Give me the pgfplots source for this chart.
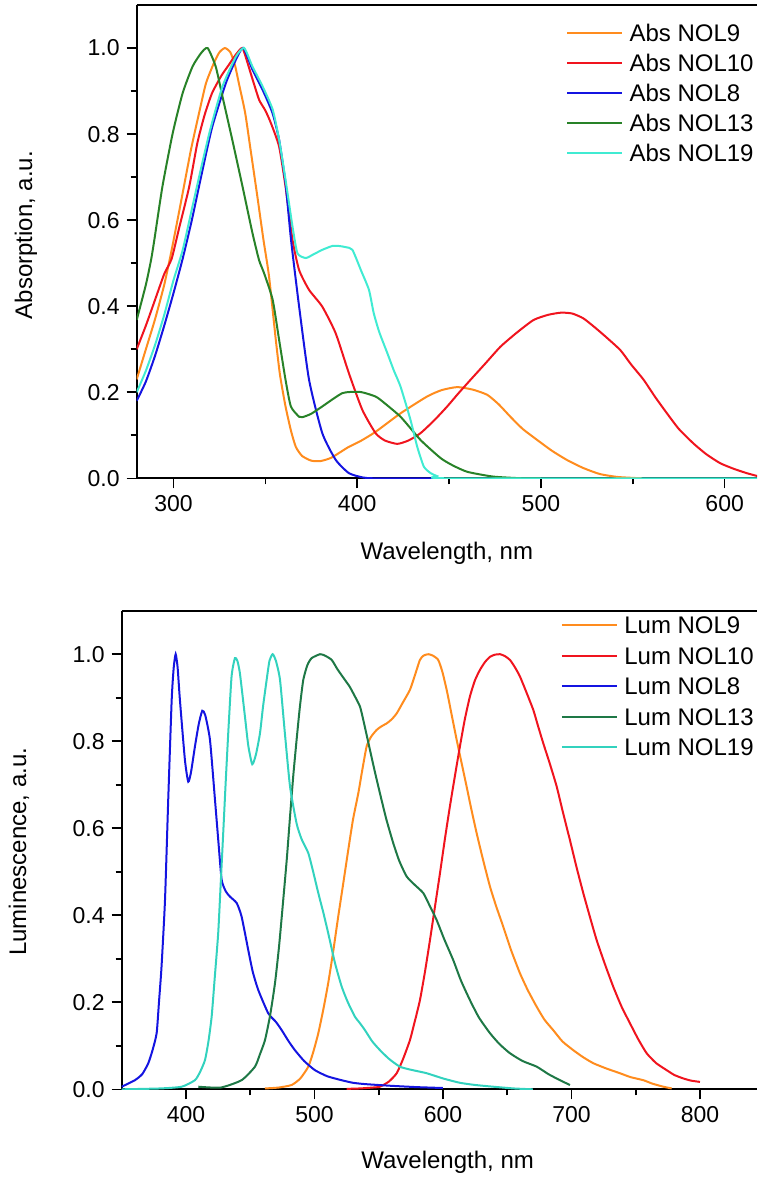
\documentclass[border=0pt]{standalone}
\usepackage{fontspec}
\setmainfont{Liberation Sans}
\usepackage{pgfplots}
\pgfplotsset{compat=1.18}

\definecolor{absorange}{RGB}{255,140,30}
\definecolor{absred}{RGB}{240,20,30}
\definecolor{absblue}{RGB}{20,20,225}
\definecolor{absgreen}{RGB}{40,130,40}
\definecolor{abscyan}{RGB}{64,235,210}
\definecolor{lumgreen}{RGB}{30,120,70}
\definecolor{lumcyan}{RGB}{50,210,190}

\pgfplotsset{
  spectrum/.style={
    scale only axis,
    axis x line*=box, axis y line*=left,
    xtick pos=left, ytick pos=left,
    tick align=outside,
    major tick length=5pt, minor tick length=3pt,
    minor x tick num=1, minor y tick num=1,
    ymin=0, ymax=1.1,
    ytick={0,0.2,0.4,0.6,0.8,1.0},
    yticklabel style={/pgf/number format/.cd, fixed, fixed zerofill, precision=1},
    /pgf/number format/assume math mode=true,
    tick label style={font=\fontsize{11.5}{13}\selectfont},
    label style={font=\fontsize{12}{14}\selectfont},
    axis line style={line width=0.9pt},
    every tick/.style={black, line width=0.8pt},
    every axis plot/.append style={line width=1pt, no markers, smooth, tension=0.35},
    legend cell align=left,
    legend image code/.code={\draw[##1] (0pt,0pt) -- (27.5pt,0pt);},
    legend style={draw=none, fill=none, anchor=north west, inner sep=0pt,
      font=\fontsize{12}{14}\selectfont, column sep=3.2pt,
      nodes={inner sep=0pt, text height=8.6pt, text depth=0pt}},
  },
}

\begin{document}
\begin{tikzpicture}
\path[use as bounding box] (0pt,0pt) rectangle (378.5pt,-588.5pt);

% absorption
\begin{axis}[spectrum,
  at={(68.35pt,-2.5pt)}, anchor=north west,
  width=310.15pt, height=236.65pt,
  xmin=280, xmax=617.6,
  xtick={300,400,500,600},
  xlabel={Wavelength, nm}, ylabel={Absorption, a.u.},
  xlabel style={at={(axis description cs:0.5,-0.158)}, anchor=center},
  ylabel style={at={(axis description cs:-0.1785,0.514)}, anchor=center},
  legend style={at={(0.6916,0.9605)}, row sep=6.4pt},
]
\addplot[absorange] coordinates {
(280,0.23) (285,0.30) (290,0.37) (295,0.45) (299,0.53) (304,0.64) (309.5,0.763)
(314,0.85) (317.7,0.918) (322,0.965) (325,0.99) (328,1.0) (331,0.99) (333.5,0.96)
(335.6,0.918) (339,0.85) (342,0.763) (345.5,0.66) (349,0.554) (352,0.47) (355.7,0.322)
(358,0.24) (361,0.167) (364,0.11) (366.6,0.073) (370,0.052) (375,0.041) (380,0.04)
(386,0.048) (395,0.072) (402,0.087) (410,0.108) (423.6,0.151) (438,0.19) (446,0.205)
(454.5,0.212) (463,0.206) (470.8,0.194) (477,0.172) (483.4,0.143) (490,0.115)
(498,0.089) (506,0.064) (514,0.043) (523,0.024) (532,0.01) (542,0.003) (555,0)
};
\addlegendentry{Abs NOL9}
\addplot[absred] coordinates {
(280,0.30) (285,0.355) (290,0.415) (295,0.475) (299,0.51) (303,0.58) (308.6,0.678)
(313,0.779) (317,0.845) (321,0.895) (326,0.935) (330,0.96) (334,0.985) (337.5,1.0)
(340,0.97) (342.5,0.935) (346.6,0.88) (350,0.855) (353,0.826) (357.5,0.771) (361,0.678)
(364.8,0.554) (368.4,0.484) (373.8,0.438) (381,0.399) (388.3,0.337) (395.5,0.244)
(402.8,0.159) (410,0.105) (415,0.088) (421.8,0.08) (428,0.088) (434.5,0.105)
(442,0.135) (449,0.167) (455,0.197) (461.7,0.229) (470,0.268) (478,0.306) (487,0.339)
(496,0.368) (504,0.38) (511,0.385) (517,0.383) (523,0.372) (528.7,0.353) (535,0.33)
(543.2,0.298) (549,0.265) (555.9,0.229) (562,0.19) (568.6,0.151) (575,0.115)
(583,0.081) (590,0.056) (597.6,0.035) (605,0.022) (612,0.012) (618,0.005)
};
\addlegendentry{Abs NOL10}
\addplot[absblue] coordinates {
(280,0.18) (285,0.225) (290,0.285) (295,0.355) (300,0.43) (305,0.51) (310,0.60)
(315,0.70) (321,0.815) (328.5,0.918) (334,0.973) (338,1.0) (343,0.95) (348.5,0.903)
(353.9,0.849) (357.5,0.787) (361,0.686) (364,0.554) (368.4,0.399) (373.8,0.229)
(381,0.105) (388.3,0.043) (395.5,0.012) (403,0.002) (410,0) (447,0)
};
\addlegendentry{Abs NOL8}
\addplot[absgreen] coordinates {
(280,0.368) (285,0.45) (287.8,0.507) (289.6,0.554) (294,0.678) (299.6,0.802)
(305,0.895) (310.4,0.957) (315,0.988) (318.6,1.0) (323,0.957) (326.7,0.887)
(332,0.787) (337.6,0.678) (343,0.57) (346.6,0.507) (349.3,0.477) (354,0.415)
(357.5,0.322) (361,0.229) (363.9,0.167) (368.4,0.143) (370.2,0.142) (375,0.15)
(381,0.167) (392,0.198) (401,0.201) (406,0.196) (410,0.19) (412.8,0.182)
(423.6,0.143) (434.5,0.089) (445.4,0.047) (452,0.03) (460,0.015) (474,0.004)
(490,0) (500,0)
};
\addlegendentry{Abs NOL13}
\addplot[abscyan] coordinates {
(280,0.20) (285,0.25) (290,0.31) (295,0.38) (300,0.46) (305,0.53) (310,0.625)
(315,0.72) (320,0.81) (326.7,0.911) (334,0.98) (338.5,1.0) (343,0.957) (348.5,0.911)
(354,0.857) (357.5,0.787) (361,0.694) (364.8,0.585) (367.5,0.523) (372,0.512)
(376,0.52) (381,0.531) (386.5,0.54) (390,0.54) (394,0.537) (397.4,0.531) (402,0.484)
(406.4,0.438) (409,0.384) (412,0.34) (416.4,0.291) (420,0.25) (423.6,0.213)
(429,0.136) (432.7,0.073) (436.3,0.027) (440,0.012) (443.6,0.005) (450,0) (618,0)
};
\addlegendentry{Abs NOL19}
\end{axis}

% luminescence
\begin{axis}[spectrum,
  at={(60.85pt,-305.35pt)}, anchor=north west,
  width=317.65pt, height=239.3pt,
  xmin=350, xmax=844.4,
  xtick={400,500,600,700,800},
  xlabel={Wavelength, nm}, ylabel={Luminescence, a.u.},
  xlabel style={at={(axis description cs:0.513,-0.152)}, anchor=center},
  ylabel style={at={(axis description cs:-0.1617,0.496)}, anchor=center},
  legend style={at={(0.6907,0.9883)}, row sep=6.65pt},
]
\addplot[absorange] coordinates {
(461.5,0.002) (472,0.004) (482.3,0.01) (489,0.025) (495.2,0.052) (499,0.085)
(503,0.129) (507,0.185) (510.7,0.244) (514.5,0.315) (518.5,0.397) (522.5,0.475)
(526.3,0.55) (530,0.62) (534.1,0.68) (537,0.73) (540.6,0.788) (544,0.81) (548.4,0.826)
(552,0.834) (556.2,0.841) (560,0.85) (564,0.864) (569,0.89) (574.3,0.918) (578,0.95)
(582.1,0.987) (585,0.997) (588.6,1.0) (592,0.997) (596.3,0.987) (599.5,0.96)
(602.9,0.918) (606.5,0.865) (610.7,0.803) (614.5,0.75) (618.4,0.696) (622,0.645)
(626.2,0.589) (631,0.53) (636.6,0.466) (641.5,0.42) (646.9,0.374) (653,0.32)
(659.9,0.267) (666,0.228) (672.9,0.19) (679,0.16) (685.8,0.136) (693,0.11)
(701.4,0.09) (709,0.074) (717,0.06) (727,0.048) (737.7,0.037) (746,0.028)
(755.9,0.021) (763,0.013) (771.5,0.006) (778,0.002)
};
\addlegendentry{Lum NOL9}
\addplot[absred] coordinates {
(525,0.001) (535.4,0.002) (545,0.004) (551,0.006) (558,0.018) (564,0.037) (569,0.07)
(574.3,0.113) (578,0.155) (582.1,0.205) (586,0.27) (589.9,0.343) (593.8,0.42)
(597.7,0.497) (601.5,0.575) (605.4,0.65) (609.3,0.72) (613.2,0.788) (617,0.85)
(621,0.903) (624.9,0.94) (628.8,0.964) (632.7,0.982) (636.6,0.994) (640.5,0.999)
(644.4,1.0) (648,0.996) (652.1,0.987) (656,0.97) (659.9,0.949) (665,0.912)
(670.3,0.872) (674,0.835) (678.1,0.795) (683,0.75) (688.5,0.696) (693.5,0.635)
(698.8,0.573) (704,0.51) (709.2,0.451) (714.5,0.395) (719.6,0.343) (726,0.288)
(732.5,0.236) (739,0.19) (745.5,0.152) (752,0.115) (758.5,0.083) (766,0.06)
(774.1,0.044) (780,0.033) (787,0.025) (793,0.02) (800,0.017)
};
\addlegendentry{Lum NOL10}
\addplot[absblue] coordinates {
(350,0.006) (360.3,0.021) (366,0.035) (370.7,0.06) (374,0.09) (377.2,0.129) (379,0.2)
(381,0.282) (383.7,0.435) (386.2,0.665) (388.9,0.895) (390.5,0.97) (392,1.0)
(393.5,0.97) (395.3,0.895) (399.2,0.757) (401.8,0.707) (404,0.73) (407,0.788)
(410,0.84) (412.7,0.87) (415,0.86) (418.7,0.803) (422.6,0.665) (425.5,0.56)
(427.8,0.481) (431,0.455) (434.2,0.443) (439.5,0.428) (443.3,0.397) (448.5,0.32)
(452,0.27) (456.3,0.228) (464,0.175) (470,0.155) (474.5,0.136) (480,0.11)
(484.8,0.09) (492,0.065) (500.4,0.044) (510,0.03) (521,0.021) (530,0.015)
(539.3,0.012) (560,0.008) (580,0.005) (600,0.003)
};
\addlegendentry{Lum NOL8}
\addplot[lumgreen] coordinates {
(409.6,0.006) (427,0.004) (443.3,0.021) (453.7,0.052) (457.5,0.08) (461.5,0.113)
(465.5,0.17) (469.3,0.244) (472.5,0.33) (475.7,0.435) (478.5,0.53) (481,0.627)
(483.5,0.72) (486.1,0.803) (488.7,0.88) (491.3,0.941) (494.5,0.975) (497.8,0.991)
(504.3,1.0) (508,0.997) (513.4,0.987) (518,0.965) (523.7,0.941) (527.5,0.925)
(531.5,0.903) (535.4,0.88) (538,0.849) (543.2,0.78) (547,0.73) (551,0.68) (556,0.62)
(561.3,0.566) (566,0.525) (571.8,0.489) (578,0.47) (584.7,0.451) (590,0.42)
(595.1,0.389) (601,0.345) (608,0.297) (614,0.25) (621,0.205) (628,0.165)
(636.6,0.129) (644,0.104) (652.1,0.083) (662,0.065) (673,0.052) (682,0.035)
(691,0.021) (698.8,0.01)
};
\addlegendentry{Lum NOL13}
\addplot[lumcyan] coordinates {
(350,0) (380,0.002) (396.7,0.006) (407,0.021) (411,0.04) (414.8,0.067) (417.5,0.11)
(420,0.167) (422.5,0.26) (425.1,0.359) (427,0.47) (429,0.589) (431,0.71) (432.9,0.818)
(435.5,0.949) (438.1,0.991) (440,0.985) (442,0.956) (445.9,0.857) (448.5,0.79)
(451.6,0.747) (454.5,0.77) (457.6,0.818) (460,0.88) (462.8,0.941) (465,0.985)
(467.5,1.0) (470,0.985) (473.2,0.941) (477,0.818) (481,0.696) (486.1,0.611)
(490,0.575) (495.2,0.543) (499,0.5) (503,0.451) (507,0.405) (510.7,0.359) (516,0.29)
(521.2,0.236) (526,0.2) (531.5,0.167) (535.4,0.152) (539.3,0.136) (545,0.11)
(551,0.09) (558,0.07) (566.5,0.052) (575,0.045) (587.3,0.037) (600,0.025)
(613.2,0.015) (625,0.01) (639,0.006) (655,0.002) (670,0)
};
\addlegendentry{Lum NOL19}
\end{axis}
\end{tikzpicture}
\end{document}
